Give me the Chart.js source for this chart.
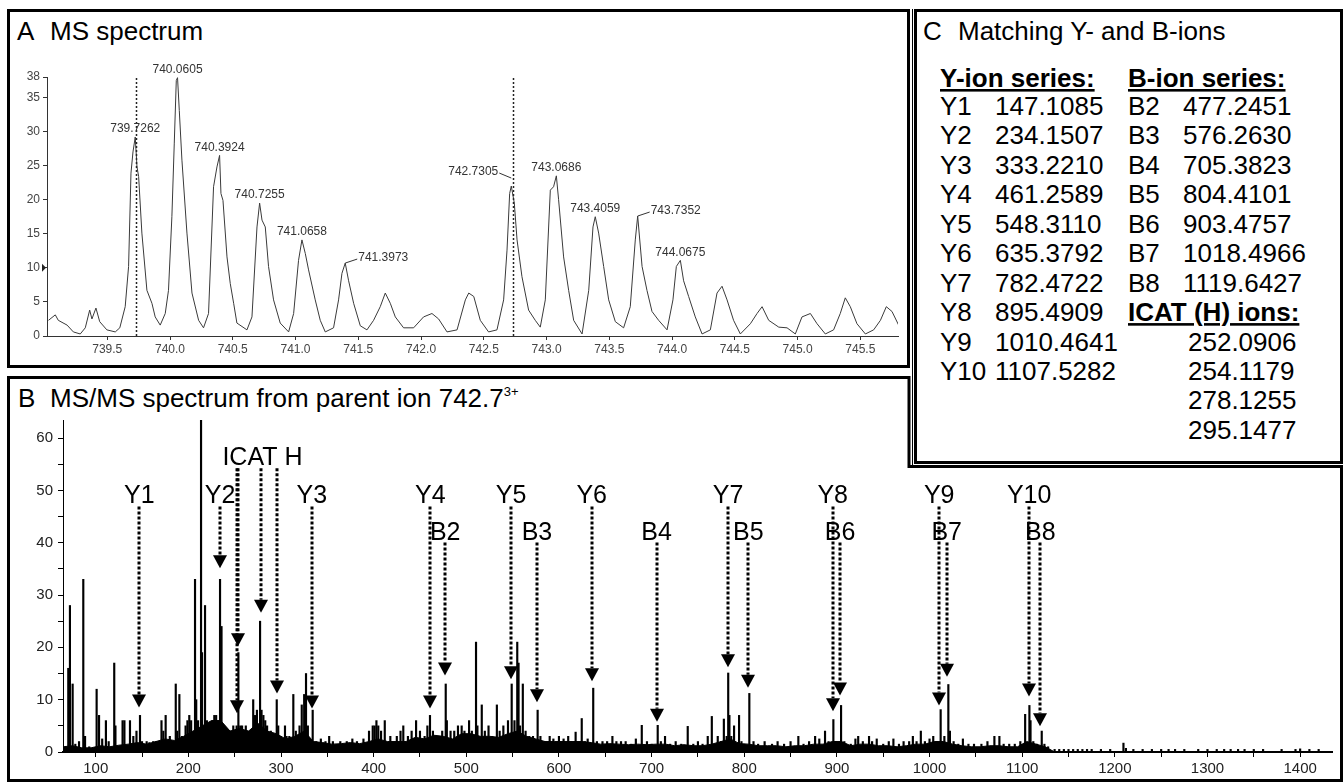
<!DOCTYPE html>
<html>
<head>
<meta charset="utf-8">
<script src="https://cdn.jsdelivr.net/npm/chart.js@4.4.1/dist/chart.umd.min.js"></script>
<style>
  html, body { margin: 0; padding: 0; background: #fff; }
  body { width: 1344px; height: 783px; position: relative; overflow: hidden; }
  canvas { position: absolute; }
  #frame { position: absolute; left: 0; top: 0; }
</style>
</head>
<body>
<svg id="frame" width="1344" height="783" font-family="Arial, 'Liberation Sans', sans-serif" fill="#000">
  <rect x="8.5" y="10.5" width="900" height="356" fill="none" stroke="#000" stroke-width="3"/>
  <path d="M8.5 377.5 H909 V466.5 H1341.5 V780.5 H8.5 Z" fill="none" stroke="#000" stroke-width="3"/>
  <rect x="915.5" y="10.5" width="426" height="452" fill="none" stroke="#000" stroke-width="3"/>
  <line x1="912.5" y1="9" x2="912.5" y2="465" stroke="#000" stroke-width="1"/>
</svg>
<canvas id="chartA" width="892" height="352" style="left:13px;top:13px"></canvas>
<canvas id="chartB" width="1324" height="372" style="left:13px;top:405px"></canvas>

<script>
// ---- panel A: MS spectrum (profile) ----
const msMz = [739.032, 739.086, 739.11, 739.18, 739.23, 739.285, 739.325, 739.36, 739.378, 739.41,
  739.44, 739.497, 739.564, 739.6, 739.643, 739.67, 739.689, 739.705, 739.723, 739.737,
  739.75, 739.776, 739.816, 739.856, 739.882, 739.922, 739.962, 739.988, 740.015, 740.034,
  740.05, 740.06, 740.074, 740.095, 740.135, 740.175, 740.228, 740.267, 740.307, 740.347,
  740.374, 740.395, 740.406, 740.422, 740.454, 740.48, 740.507, 740.533, 740.613, 740.653,
  740.693, 740.714, 740.733, 740.759, 740.785, 740.825, 740.878, 740.945, 740.985, 741.024,
  741.051, 741.078, 741.104, 741.157, 741.197, 741.237, 741.303, 741.343, 741.37, 741.396,
  741.423, 741.463, 741.516, 741.569, 741.622, 741.675, 741.715, 741.755, 741.795, 741.861,
  741.941, 742.02, 742.087, 742.14, 742.207, 742.287, 742.353, 742.38, 742.42, 742.472,
  742.538, 742.605, 742.658, 742.685, 742.706, 742.719, 742.743, 742.765, 742.804, 742.857,
  742.91, 742.95, 742.99, 743.03, 743.056, 743.078, 743.096, 743.136, 743.176, 743.216,
  743.283, 743.336, 743.37, 743.388, 743.415, 743.455, 743.495, 743.548, 743.614, 743.667,
  743.707, 743.726, 743.761, 743.8, 743.84, 743.893, 743.96, 744.007, 744.034, 744.066,
  744.092, 744.132, 744.185, 744.239, 744.305, 744.358, 744.398, 744.438, 744.49, 744.544,
  744.624, 744.677, 744.717, 744.77, 744.85, 744.916, 744.982, 745.035, 745.102, 745.155,
  745.221, 745.287, 745.34, 745.38, 745.42, 745.473, 745.54, 745.606, 745.66, 745.707,
  745.752, 745.805];
const msInt = [2.3, 3.1, 2.3, 1.6, 0.6, 0.3, 1.2, 3.8, 2.5, 4.1,
  2.1, 0.9, 0.6, 1.2, 4.3, 10.2, 23.9, 27.0, 29.2, 24.8,
  23.4, 15.1, 6.7, 4.8, 2.8, 1.6, 3.3, 6.7, 17.5, 28.3,
  37.5, 37.9, 33.1, 25.8, 15.1, 6.3, 2.3, 1.2, 3.3, 21.9,
  24.8, 26.5, 20.9, 19.9, 11.6, 7.7, 4.8, 1.9, 0.9, 2.8,
  16.0, 19.5, 17.0, 16.0, 10.2, 5.3, 1.9, 0.6, 3.3, 11.1,
  14.1, 12.1, 9.7, 5.3, 2.3, 0.6, 1.2, 5.3, 9.2, 10.7,
  8.1, 4.8, 1.5, 0.9, 2.3, 4.3, 6.3, 4.8, 2.8, 1.2,
  1.2, 2.8, 3.3, 2.5, 0.6, 0.9, 5.3, 6.3, 5.8, 2.3,
  0.6, 0.9, 5.3, 12.6, 20.9, 22.0, 19.5, 14.1, 8.7, 3.8,
  2.3, 1.3, 5.3, 21.4, 21.9, 23.5, 20.0, 11.6, 6.7, 2.3,
  0.3, 6.7, 16.0, 17.5, 15.1, 10.2, 5.3, 2.1, 1.2, 4.3,
  14.1, 17.6, 10.2, 6.7, 3.6, 2.3, 0.9, 5.3, 10.2, 11.1,
  8.1, 5.8, 2.8, 0.3, 0.9, 6.3, 7.3, 5.3, 2.3, 0.3,
  1.8, 3.3, 4.3, 2.3, 1.3, 1.2, 0.3, 2.8, 3.3, 1.8,
  0.3, 0.9, 3.3, 5.6, 4.3, 1.8, 0.3, 0.9, 2.3, 4.3,
  3.6, 1.6];
const msXTicks = [739.5, 740.0, 740.5, 741.0, 741.5, 742.0, 742.5, 743.0, 743.5, 744.0, 744.5, 745.0, 745.5];
const msYTicks = [0, 5, 10, 15, 20, 25, 30, 35, 38];
const msPeakLabels = ['739.7262', '740.0605', '740.3924', '740.7255', '741.0658', '741.3973',
  '742.7305', '743.0686', '743.4059', '743.7352', '744.0675'];
const msMarkers = [739.7262, 742.7305];

// ---- panel B: MS/MS spectrum (sticks) ----
const msmsPeaks = [[70.4,16],[72.2,28],[75.1,13],[78,1.5],[82,2],[86.6,33],[88.5,3],[93,1],[101,12],[103.6,7],
  [107,2.5],[111,6],[114,2],[120,17],[121.3,5],[129,6],[131,6],[137,6],[140.6,3],[144,4],
  [147.8,7],[150,2],[155,2],[158,1.8],[162,2],[165,2],[171,6],[173,4],[175.5,7],[180,3],
  [183,2],[186.4,13],[188,4],[190.3,11],[193,3],[197,5],[199,6],[201,7],[203,6],[207.2,33],
  [208.5,10],[210.5,6],[213.7,66],[214.8,19],[218,28],[220,6],[224,5],[226,6],[228,7],[230,7],
  [232,6],[234.2,33],[235.8,24],[238,5],[240,4],[242,3],[245,4],[248.5,5],[252.1,5],[254,19],
  [256,5],[258,5],[260,4],[262,5],[264,4],[268,3],[270,10],[272,7],[274,8],[277.4,25],
  [279,8],[281,7],[283,6],[285,5],[289,4],[291,3],[295.4,10],[297,5],[300,3],[304.3,5],
  [306,3],[309,3],[313.3,11],[316,4],[320,5],[322.4,9],[325,11],[327,15],[329,5],[334.2,8],
  [338,2],[343,2.5],[348,2],[352,3],[356,2],[364,2],[371,2],[377,2.5],[382,2],[389,2.5],
  [395,4],[399,5],[401,5],[403,6],[405,5],[408,4],[412,6],[418,3],[425,3],[429,4],
  [432,5],[437,3],[441,4],[445.8,6],[450,4],[455,3],[458,5],[460.8,7],[464,4],[467,3],
  [471,3],[474,4],[477.8,13],[479,6],[483,4],[487,4],[491,5],[495,5],[498,4],[503,6],
  [506,4],[510.5,21],[512,5],[516.7,9],[520,4],[524,5],[528,3],[533,9],[536,4],[540,5],
  [545,6],[549,13],[552,6],[555,21],[556.4,17],[558,5],[561,13],[564,4],[568,3],[572,3],
  [577,8],[580,3],[585,2],[590,3],[594,2.5],[600,3],[605,2.5],[610,3],[614,2],[618,3.8],
  [624.6,6.4],[628,2],[631,2.5],[637,12.2],[641,2],[647,2],[652,2],[657.7,3],[662,2],[667,2],
  [672,2],[678,1.5],[683,2.5],[689.4,5.1],[695,2],[700,1.5],[706.6,5.1],[710,2],[714.5,3],[720,1.5],
  [726,2],[732,1.5],[739,4.9],[745,1.5],[750,2],[755,1.5],[760.6,3],[765,6.8],[771.4,3],[775,2],
  [778,6.3],[781,3],[782.7,15.1],[784,7],[786,3],[789,5],[794.4,7],[797,2],[800,1.5],[805.5,11.2],
  [810,2],[815,1.5],[822,2],[830,1.5],[836,2],[843,1.5],[850,2],[858.4,3],[864,1.5],[870,2],
  [876.5,3],[881,2.5],[887.2,4],[891,2],[896.2,6.2],[899,2],[904.5,8.9],[908,2],[915,1.5],[920,2.5],
  [923,3],[928,2],[934.7,3],[938,2],[943,2.5],[950,1.5],[956,2],[961,2.5],[967,1.5],[972,2],
  [978,2],[982,3],[986,2],[990.6,4],[995,2],[1000,2.5],[1004,3],[1008,2],[1012,8.1],[1016,3],
  [1020.3,12.9],[1022,4],[1026,2],[1031,1.5],[1036,2.5],[1042,1.5],[1048,1.5],[1056,1.5],[1062.5,2],[1070,3],
  [1075.4,3],[1080,1.5],[1086,1.5],[1092,1.5],[1098,2],[1103.2,7.2],[1107.8,8.9],[1109,6],[1112,2],[1116,1.5],
  [1121.1,4],[1124,1.5],[1128,1],[1135,0.5],[1140,0.5],[1145,0.5],[1150,0.5],[1155,0.5],[1160,0.5],[1165,0.5],
  [1170,0.5],[1175,0.5],[1185,0.5],[1195,0.5],[1209.3,1.7],[1212,0.7],[1220,0.5],[1230,0.5],[1240,0.5],[1250,0.5],
  [1258,0.5],[1265,0.5],[1275,0.5],[1290,0.5],[1300,0.5],[1310,0.5],[1318,0.5],[1325,0.5],[1333,0.5],[1340,0.5],
  [1350,0.5],[1360,0.5],[1380,0.5],[1395,0.5],[1400,0.6],[1410,0.5],[1420,0.5]];
// dense low-level noise envelope under the sticks
const msmsNoise = [[65,1],[75,1.2],[85,0.8],[95,0.8],[105,1.2],[115,1],[125,1.3],[135,1.5],[145,1.8],[155,1.5],
  [165,2],[175,2.5],[185,2.2],[195,3],[205,4],[215,5],[225,6],[235,6],[245,4],[255,4.5],
  [265,4],[275,5.5],[285,4],[295,3.5],[305,2.5],[315,3],[325,4],[335,2],[345,1.8],[355,1.5],
  [365,1.6],[375,1.8],[385,1.6],[395,2],[405,2.5],[415,2],[425,2],[435,2],[445,2.8],[455,2.5],
  [465,3.2],[475,3],[485,2.5],[495,3.5],[505,3.5],[515,3],[525,3],[535,2.8],[545,3.5],[555,4],
  [565,3],[575,2.5],[585,2],[595,2],[605,2],[615,2],[625,2],[635,1.8],[645,1.5],[655,1.6],
  [665,1.5],[675,1.4],[685,1.5],[695,1.4],[705,1.5],[715,1.5],[725,1.2],[735,1.4],[745,1.2],[755,1.2],
  [765,1.5],[775,2],[785,2.5],[795,1.6],[805,1.5],[815,1.2],[825,1.2],[835,1.2],[845,1],[855,1.2],
  [865,1.2],[875,1.5],[885,1.5],[895,2],[905,2],[915,1.2],[925,1.5],[935,1.5],[945,1.2],[955,1.2],
  [965,1],[975,1.2],[985,1.5],[995,1.5],[1005,2],[1015,2],[1025,1.5],[1035,1.2],[1045,1],[1055,1],
  [1065,1.2],[1075,1.2],[1085,1],[1095,1],[1105,2],[1115,1.5],[1125,1],[1135,0]];
const msmsXTicks = [100, 150, 200, 250, 300, 350, 400, 450, 500, 550, 600, 650, 700, 750, 800,
  850, 900, 950, 1000, 1050, 1100, 1150, 1200, 1250, 1300, 1350, 1400];
const msmsYTicks = [0, 5, 10, 15, 20, 25, 30, 35, 40, 45, 50, 55, 60];

// matched ions (also panel C)
const yIonLabels = ['Y1', 'Y2', 'Y3', 'Y4', 'Y5', 'Y6', 'Y7', 'Y8', 'Y9', 'Y10'];
const yIonMz = [147.1085, 234.1507, 333.2210, 461.2589, 548.3110, 635.3792, 782.4722, 895.4909, 1010.4641, 1107.5282];
const yIonTip = [8.5, 35.1, 8.3, 8.3, 13.9, 13.5, 16.2, 7.8, 8.9, 10.6];
const bIonLabels = ['B2', 'B3', 'B4', 'B5', 'B6', 'B7', 'B8'];
const bIonMz = [477.2451, 576.2630, 705.3823, 804.4101, 903.4757, 1018.4966, 1119.6427];
const bIonTip = [14.6, 9.5, 5.8, 12.3, 10.8, 14.4, 4.9];
const icatMz = [252.0906, 254.1179, 278.1255, 295.1477];
const icatTip = [7.4, 20.2, 26.6, 11.2];

Chart.defaults.font.family = '"Liberation Sans", Arial, sans-serif';
Chart.defaults.color = '#333';

const peakLabelPlugin = {
  id: 'peakLabels',
  afterDatasetsDraw(chart, args, opts) {
    const { ctx, scales: { x, y } } = chart;
    ctx.save();
    // dotted parent-ion markers
    ctx.strokeStyle = '#222';
    ctx.lineWidth = 1.5;
    ctx.setLineDash([2, 2]);
    msMarkers.forEach(m => {
      const px = Math.round(x.getPixelForValue(m)) + 0.5;
      ctx.beginPath();
      ctx.moveTo(px, y.getPixelForValue(0));
      ctx.lineTo(px, y.getPixelForValue(38));
      ctx.stroke();
    });
    ctx.setLineDash([]);
    // threshold marker at 10
    const ty = y.getPixelForValue(10);
    ctx.fillStyle = '#222';
    ctx.beginPath();
    ctx.moveTo(x.left - 5, ty - 4);
    ctx.lineTo(x.left - 1, ty);
    ctx.lineTo(x.left - 5, ty + 4);
    ctx.fill();
    // peak labels
    ctx.font = '12px "Liberation Sans", Arial';
    ctx.fillStyle = '#333';
    ctx.strokeStyle = '#333';
    ctx.lineWidth = 1;
    msPeakLabels.forEach((lab, i) => {
      const mz = parseFloat(lab);
      let top = 0, topMz = mz;
      msMz.forEach((v, j) => {
        if (Math.abs(v - mz) < 0.04 && msInt[j] > top) { top = msInt[j]; topMz = v; }
      });
      const px = x.getPixelForValue(topMz), py = y.getPixelForValue(top);
      const side = opts.sides[i];
      ctx.textBaseline = 'middle';
      if (side === 'right') {
        ctx.beginPath(); ctx.moveTo(px, py); ctx.lineTo(px + 12, py - 4); ctx.stroke();
        ctx.textAlign = 'left';
        ctx.fillText(lab, px + 13, py - 5);
      } else if (side === 'left') {
        ctx.beginPath(); ctx.moveTo(px, py - 8); ctx.lineTo(px - 12, py - 13); ctx.stroke();
        ctx.textAlign = 'right';
        ctx.fillText(lab, px - 13, py - 14);
      } else {
        ctx.textAlign = 'center';
        ctx.fillText(lab, px, py - 8);
      }
    });
    ctx.restore();
  }
};

const ionArrowPlugin = {
  id: 'ionArrows',
  afterDatasetsDraw(chart, args, o) {
    const { ctx, scales: { x, y } } = chart;
    ctx.save();
    ctx.fillStyle = '#000';
    ctx.strokeStyle = '#000';
    const arrow = (mz, fromPx, tipVal) => {
      const px = Math.round(x.getPixelForValue(mz));
      const tip = y.getPixelForValue(tipVal);
      ctx.lineWidth = 3;
      ctx.setLineDash([3, 2]);
      ctx.beginPath();
      ctx.moveTo(px, fromPx);
      ctx.lineTo(px, tip - o.headLen);
      ctx.stroke();
      ctx.setLineDash([]);
      ctx.beginPath();
      ctx.moveTo(px - o.headHalf, tip - o.headLen);
      ctx.lineTo(px + o.headHalf, tip - o.headLen);
      ctx.lineTo(px, tip);
      ctx.closePath();
      ctx.fill();
    };
    ctx.font = o.font;
    ctx.textAlign = 'center';
    ctx.textBaseline = 'alphabetic';
    const yBase = y.getPixelForValue(o.yRow);
    const bBase = y.getPixelForValue(o.bRow);
    const iBase = y.getPixelForValue(o.icatRow);
    yIonLabels.forEach((lab, i) => {
      ctx.fillText(lab, x.getPixelForValue(yIonMz[i]), yBase);
      arrow(yIonMz[i], yBase + 3, yIonTip[i]);
    });
    bIonLabels.forEach((lab, i) => {
      ctx.fillText(lab, x.getPixelForValue(bIonMz[i]), bBase);
      arrow(bIonMz[i], bBase + 3, bIonTip[i]);
    });
    ctx.fillText('ICAT H', x.getPixelForValue(o.icatLabelMz), iBase);
    icatMz.forEach((mz, i) => arrow(mz, iBase + 3, icatTip[i]));
    ctx.restore();
  }
};

new Chart(document.getElementById('chartA'), {
  type: 'line',
  data: {
    datasets: [{
      data: msMz.map((v, i) => ({ x: v, y: msInt[i] })),
      borderColor: '#3a3a3a',
      borderWidth: 1,
      pointRadius: 0,
      tension: 0
    }]
  },
  options: {
    responsive: false,
    animation: false,
    layout: { padding: { top: 64, right: 7, left: 0, bottom: 0 } },
    plugins: {
      legend: { display: false },
      tooltip: { enabled: false },
      peakLabels: { sides: ['above', 'above', 'above', 'above', 'above', 'right', 'left', 'above', 'above', 'right', 'above'] }
    },
    scales: {
      x: {
        type: 'linear', min: 739.02, max: 745.8,
        afterBuildTicks: s => { s.ticks = msXTicks.map(v => ({ value: v })); },
        afterFit: s => { s.height = 29; },
        ticks: { callback: v => v.toFixed(1), font: { size: 12 }, color: '#444', padding: 2, maxRotation: 0 },
        grid: { drawOnChartArea: false, drawTicks: true, tickLength: 4, color: '#333' },
        border: { color: '#333', width: 1 }
      },
      y: {
        min: 0, max: 38,
        afterBuildTicks: s => { s.ticks = msYTicks.map(v => ({ value: v })); },
        afterFit: s => { s.width = 34; },
        ticks: { font: { size: 12 }, color: '#444', padding: 3 },
        grid: { drawOnChartArea: false, drawTicks: true, tickLength: 4, color: '#333' },
        border: { color: '#333', width: 1 }
      }
    }
  },
  plugins: [peakLabelPlugin]
});

new Chart(document.getElementById('chartB'), {
  data: {
    datasets: [{
      type: 'line',
      data: msmsNoise.map(p => ({ x: p[0], y: p[1] })),
      borderColor: '#000',
      backgroundColor: '#000',
      borderWidth: 1,
      pointRadius: 0,
      tension: 0,
      fill: 'origin'
    }, {
      type: 'bar',
      data: msmsPeaks.map(p => ({ x: p[0], y: p[1] })),
      backgroundColor: '#000',
      barThickness: 1.5,
      grouped: false
    }]
  },
  options: {
    responsive: false,
    animation: false,
    layout: { padding: { top: 15, right: 5, left: 0, bottom: 0 } },
    plugins: {
      legend: { display: false },
      tooltip: { enabled: false },
      ionArrows: {
        font: '25px "Liberation Sans", Arial',
        yRow: 47.5, bRow: 40.6, icatRow: 54.8, icatLabelMz: 280,
        headLen: 13, headHalf: 7
      }
    },
    scales: {
      x: {
        type: 'linear', min: 64.7, max: 1434.4, offset: false,
        afterBuildTicks: s => { s.ticks = msmsXTicks.map(v => ({ value: v })); },
        afterFit: s => { s.height = 25; },
        ticks: { callback: v => (v % 100 === 0 ? String(v) : ''), font: { size: 15 }, color: '#222', padding: 3, maxRotation: 0, autoSkip: false },
        grid: { offset: false, drawOnChartArea: false, drawTicks: true, tickLength: 5, color: '#000' },
        border: { color: '#000', width: 2 }
      },
      y: {
        type: 'linear', min: 0, max: 63.45,
        afterBuildTicks: s => { s.ticks = msmsYTicks.map(v => ({ value: v })); },
        afterFit: s => { s.width = 50; },
        ticks: { callback: v => (v % 10 === 0 ? String(v) : ''), font: { size: 15 }, color: '#222', padding: 5, autoSkip: false },
        grid: { drawOnChartArea: false, drawTicks: true, tickLength: 5, color: '#000' },
        border: { color: '#000', width: 1 }
      }
    }
  },
  plugins: [ionArrowPlugin]
});

// ---- static text: panel titles and panel C table ----
const svg = document.getElementById('frame');
function addText(str, x, y, opts = {}) {
  const t = document.createElementNS('http://www.w3.org/2000/svg', 'text');
  t.setAttribute('x', x);
  t.setAttribute('y', y);
  t.setAttribute('font-size', opts.size || 26);
  if (opts.bold) t.setAttribute('font-weight', 'bold');
  if (opts.underline) t.setAttribute('text-decoration', 'underline');
  t.textContent = str;
  svg.appendChild(t);
  return t;
}
addText('A', 17, 40);
addText('MS spectrum', 50, 40);
addText('C', 923, 40);
addText('Matching Y- and B-ions', 958, 40);
addText('B', 18, 407);
const bTitle = addText('MS/MS spectrum from parent ion 742.7', 50, 407);
const sup = document.createElementNS('http://www.w3.org/2000/svg', 'tspan');
sup.setAttribute('dy', '-11');
sup.setAttribute('font-size', '13');
sup.textContent = '3+';
bTitle.appendChild(sup);

const row0 = 115, rowStep = 29.44;
addText('Y-ion series:', 940, 87, { bold: true, underline: true });
addText('B-ion series:', 1128, 87, { bold: true, underline: true });
yIonLabels.forEach((lab, i) => {
  addText(lab, 940, row0 + i * rowStep);
  addText(yIonMz[i].toFixed(4), 995, row0 + i * rowStep);
});
bIonLabels.forEach((lab, i) => {
  addText(lab, 1128, row0 + i * rowStep);
  addText(bIonMz[i].toFixed(4), 1183, row0 + i * rowStep);
});
addText('ICAT (H) ions:', 1128, row0 + 7 * rowStep, { bold: true, underline: true });
icatMz.forEach((mz, i) => addText(mz.toFixed(4), 1188, row0 + (8 + i) * rowStep));
</script>
</body>
</html>
